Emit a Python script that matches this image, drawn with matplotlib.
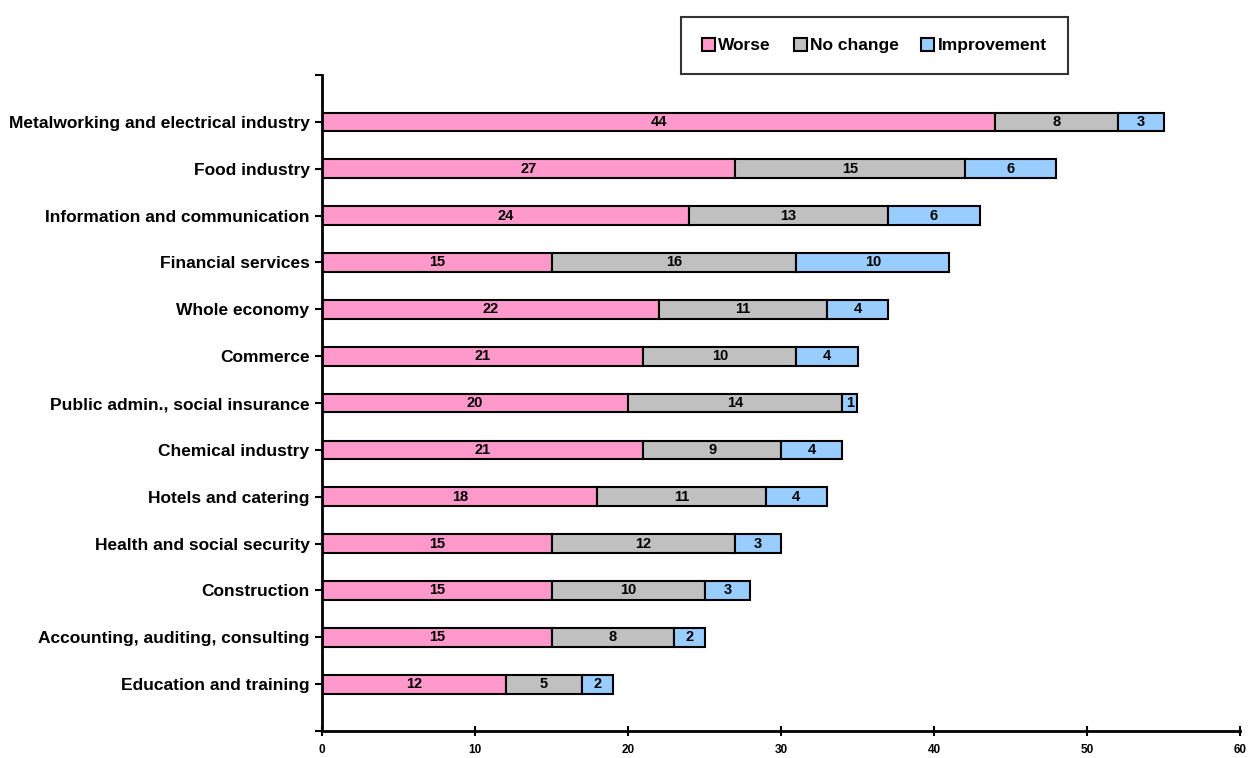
import matplotlib
matplotlib.use("Agg")
import matplotlib.pyplot as plt
import numpy as np

# Daten (von oben nach unten)
categories = [
    "Metalworking and electrical industry",
    "Food industry",
    "Information and communication",
    "Financial services",
    "Whole economy",
    "Commerce",
    "Public admin., social insurance",
    "Chemical industry",
    "Hotels and catering",
    "Health and social security",
    "Construction",
    "Accounting, auditing, consulting",
    "Education and training",
]
worse = [44, 27, 24, 15, 22, 21, 20, 21, 18, 15, 15, 15, 12]
no_change = [8, 15, 13, 16, 11, 10, 14, 9, 11, 12, 10, 8, 5]
improvement = [3, 6, 6, 10, 4, 4, 1, 4, 4, 3, 3, 2, 2]

series = [("Worse", worse, "#FF99CC"),
          ("No change", no_change, "#C0C0C0"),
          ("Improvement", improvement, "#99CCFF")]

plt.rcParams['font.family'] = ['Liberation Sans', 'DejaVu Sans']
plt.rcParams['font.weight'] = 'bold'

fig = plt.figure(figsize=(12.5, 7.58), dpi=100)
ax = fig.add_axes([0.2576, 0.0356, 0.992 - 0.2576, 0.901 - 0.0356])

y = np.arange(len(categories))
left = np.zeros(len(categories))
for name, vals, col in series:
    vals = np.array(vals)
    ax.barh(y, vals, left=left, height=0.4, color=col,
            edgecolor="black", linewidth=1.5, label=name)
    for yi, l, v in zip(y, left, vals):
        ax.text(l + v / 2, yi, str(v), ha="center", va="center",
                fontsize=10.5, fontweight="bold")
    left += vals

ax.set_xlim(0, 60)
ax.set_ylim(len(categories), -1)
ax.set_xticks(range(0, 61, 10))
ax.set_yticks(list(range(-1, len(categories) + 1)))
ax.set_yticklabels([""] + categories + [""], fontsize=12.5, fontweight="bold")
ax.tick_params(axis="x", direction="inout", length=7, width=1.5,
               labelsize=8.5, pad=6)
ax.tick_params(axis="y", direction="out", length=5, width=1.5, pad=4)
for lab in ax.get_xticklabels():
    lab.set_fontweight("bold")

for s in ["top", "right"]:
    ax.spines[s].set_visible(False)
for s in ["left", "bottom"]:
    ax.spines[s].set_linewidth(2)

leg = fig.legend(loc="upper left", bbox_to_anchor=(681 / 1250, 1 - 17 / 758),
                 ncol=3, fontsize=12.5, frameon=True, fancybox=False,
                 handlelength=0.75, handleheight=0.75, handletextpad=0.2,
                 columnspacing=1.3, borderpad=1.2, borderaxespad=0,
                 edgecolor="black")
leg.get_frame().set_linewidth(1.5)
for t in leg.get_texts():
    t.set_fontweight("bold")

fig.savefig("out.png", dpi=100)
